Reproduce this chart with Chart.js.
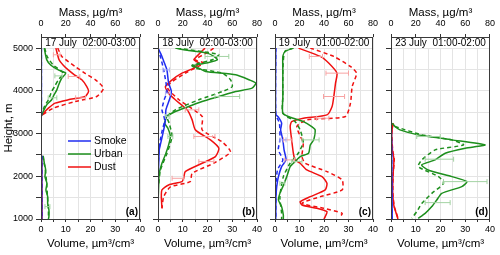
<!DOCTYPE html>
<html>
<head>
<meta charset="utf-8">
<script src="https://cdn.jsdelivr.net/npm/chart.js@4/dist/chart.umd.min.js"></script>
<style>
  body { margin: 0; background: #fff; width: 500px; height: 255px; position: relative; overflow: hidden; }
  canvas { position: absolute; left: 0; top: 0; }
</style>
</head>
<body>
<canvas id="pa" width="500" height="255"></canvas>
<canvas id="pb" width="500" height="255"></canvas>
<canvas id="pc" width="500" height="255"></canvas>
<canvas id="pd" width="500" height="255"></canvas>
<script>
// perfiles: altura (m) y valores; volumen en µm3/cm3, masa en µg/m3 (null = hueco)
// panel (a) 17 July
const aSmokeH = [5000, 3400, null, 2480, 1000];
const aSmokeVol = [0.15, 0.15, null, 0.3, 0.3];
const aSmokeMass = [0.3, 0.3, null, 0.5, 0.5];
const aUrbanH = [5000, 4730, 4600, 4490, 4414, 4300, 4150, 4023, 3900, 3790, 3670, 3516, 3400, null, 2477, 2305, 2148, 1992, 1836, 1680, 1523, 1367, 1211, 1055, 1000];
const aUrbanVol = [1.3, 2.3, 4, 7, 10, 8.4, 7.2, 6.4, 5.2, 4.3, 2.3, 0.9, 0, null, 0.9, 1.35, 1.9, 1.6, 2.4, 2, 2.7, 2.7, 3.2, 3.2, 3];
const aUrbanMassH = [5000, 4800, 4600, 4414, 4258, 4100, 3984, 3790, 3650, 3500, 3400, null, 2477, 2148, 1836, 1523, 1211, 1000];
const aUrbanMass = [3, 5, 10, 18, 14, 11, 8.6, 6, 3, 1, 0, null, 1.5, 3.5, 4.6, 5.2, 6, 6];
const aDustH = [5000, 4727, 4600, 4490, 4375, 4258, 4100, 3984, 3867, 3790, 3711, 3594, 3477, 3400, null, 2480, 2000, 1500, 1000];
const aDustVol = [6, 7.3, 9, 11, 13.5, 16.5, 18.5, 19.2, 17.8, 11, 5.7, 3, 1, 0, null, 0.3, 0.3, 0.4, 0.4];
const aDustMassH = [5000, 4800, 4570, 4400, 4258, 4063, 3867, 3750, 3594, 3437, null, 2480, 1000];
const aDustMass = [13.5, 17, 27.6, 36, 44, 50.5, 45, 27.6, 10, 1, null, 0.6, 0.8];
const aErrH = [4350, 3837, 1290, 4844, 4336, 3837];
const aErrLo = [5.6, 2.9, 1.6, 5, 11, 14];
const aErrHi = [8.5, 6.4, 3.6, 7.7, 15.7, 18];
const aErrType = ['u', 'u', 'u', 'd', 'd', 'd'];

// panel (b) 18 July
const bSmokeH = [5000, 4805, 4650, 4490, 4180, 3984, 3790, 3555, 3320, 3086, 2852, 2617, 2305, 2070, 1800];
const bSmokeVol = [0, 1.6, 2.6, 3.6, 4.3, 5.4, 4.6, 3.2, 3, 2.3, 1.4, 0.5, 0.3, 0.1, 0.1];
const bSmokeMassH = [5000, 4805, 4490, 3984, 3790, 3555, 3320, 3086, 2852, 2600, 2300];
const bSmokeMass = [0, 1.9, 4.6, 7.3, 5, 3.2, 5.4, 3.5, 1.9, 0.8, 0.3];
const bUrbanH = [5000, 4945, 4883, 4805, 4727, 4664, 4586, 4531, 4453, 4375, 4258, 4180, 4063, 3984, 3867, 3750, 3633, 3516, 3398, 3242, 3125, 2930, 2734, 2539, 2305, 2070, 1836, 1500];
const bUrbanVol = [7, 12.4, 19.9, 22.6, 24, 20.5, 13.8, 16.5, 19.2, 31.4, 36.8, 39.5, 38, 31.4, 24.6, 17.8, 12.4, 7, 3.6, 2.7, 4, 5, 4.3, 3.2, 1.6, 0.5, 0.3, 0.1];
const bUrbanMassH = [5000, 4850, 4727, 4600, 4530, 4414, 4258, 4100, 3984, 3790, 3555, 3398, 3242, 2930, 2539, 2150, 1800];
const bUrbanMass = [15.4, 49, 44, 27.6, 30, 52, 58.6, 60, 52, 33, 14, 7.3, 9, 11.4, 7.3, 2, 0.5];
const bDustH = [5000, 4883, 4727, 4650, 4531, 4414, 4258, 4100, 3945, 3790, 3555, 3320, 3086, 2852, 2656, 2460, 2305, 2109, 1953, 1875, 1797, 1680, 1523, 1250];
const bDustVol = [19, 17, 14.5, 16.5, 14.5, 9.7, 5.7, 3, 4.3, 7, 11.8, 13.8, 15.1, 21.2, 24.6, 23.2, 17.8, 11, 10.4, 9.7, 4.3, 1.6, 1.35, 1.6];
const bDustMassH = [5000, 4900, 4727, 4650, 4414, 4100, 3790, 3400, 3086, 2800, 2570, 2305, 2070, 1875, 1750, 1523, 1250];
const bDustMass = [45, 40, 30, 37, 22, 7.3, 17, 35.7, 35.7, 52, 58.6, 45, 27.6, 26, 10, 4.6, 3.2];
const bErrH = [4805, 3867, 2930, 3400, 4490, 3945, 3555, 2930, 2344, 1953];
const bErrLo = [19, 23, 4, 3, 2, 3, 11, 14.5, 16.5, 5.7];
const bErrHi = [28.6, 33, 6, 4.5, 4.6, 5, 16.5, 23, 22.6, 10.4];
const bErrType = ['u', 'u', 'u', 'u', 's', 's', 'd', 'd', 'd', 'd'];

// panel (c) 19 July
const cSmokeH = [5000, 3450, 3383, 3242, 3086, 2852, 2617, 2383, 2227, 1992, 1758, 1523, 1000];
const cSmokeVol = [0.3, 0.3, 1.4, 2.7, 2.3, 3.2, 3.7, 4.5, 2.7, 1.4, 0.7, 0.4, 0.3];
const cSmokeMassH = [5000, 3450, 3242, 2852, 2617, 2383, 2148, 1758, 1000];
const cSmokeMass = [0.6, 0.6, 3.6, 4, 2.7, 6.4, 2, 0.8, 0.6];
const cUrbanH = [5000, 4920, 4805, 4490, 3867, 3477, 3383, 3280, 3164, 3086, 2852, 2734, 2539, 2460, 2344, 2227, 1992, 1758, 1600, 1445, 1290, 1095, 1000];
const cUrbanVol = [7.5, 4.1, 3.2, 3.2, 3.2, 3.2, 6.2, 11.6, 15, 16.4, 15.8, 14.4, 13.7, 10.3, 8.2, 6.2, 4.8, 3.2, 2, 1.4, 2.7, 3.4, 3.4];
const cUrbanMassH = [5000, 4920, 4500, 3867, 3477, 3280, 3086, 2800, 2539, 2305, 1992, 1523, 1133, 1000];
const cUrbanMass = [15, 8, 6.4, 6.4, 6.4, 16.4, 20.5, 23, 19, 12.3, 6.8, 4, 5.4, 5.4];
const cDustH = [5000, 4805, 4650, 4414, 4180, 3867, 3633, 3437, 3360, 3280, 3164, 2852, 2539, 2383, 2305, 2148, 1992, 1836, 1680, 1523, 1406, 1328, 1250, 1172, 1055, 1000];
const cDustVol = [9.6, 18.5, 21.9, 25.3, 24.7, 24, 23.3, 21.2, 11.6, 6.8, 6.2, 6.8, 7.5, 8.2, 10.3, 13, 19.2, 21.2, 20.5, 14.4, 10.3, 11, 17.1, 21.2, 20.5, 20];
const cDustMassH = [5000, 4805, 4570, 4414, 4100, 3711, 3400, 3320, 3164, 2773, 2460, 2305, 2109, 1914, 1680, 1523, 1367, 1250, 1133, 1055];
const cDustMass = [28.8, 48, 61.6, 66.6, 63, 61.6, 57.5, 26, 17.8, 23, 22, 24.6, 42.5, 54.8, 54.8, 37, 22, 39.7, 54.8, 53.4];
const cErrH = [2852, 2344, 1836, 2852, 4805, 4414, 3867, 3360, 2852, 2383];
const cErrLo = [11, 6.8, 2, 2, 14, 20.8, 19.8, 17, 3.5, 4];
const cErrHi = [18, 11, 4, 4.5, 19.4, 30, 28.4, 22, 7, 8];
const cErrType = ['u', 'u', 'u', 's', 'd', 'd', 'd', 'd', 'd', 'd'];

// panel (d) 23 July
const dSmokeH = [3200, 2500, 2000, 1000];
const dSmokeVol = [0.1, 0.3, 0.3, 0.5];
const dSmokeMass = [0.2, 0.5, 0.5, 0.8];
const dUrbanH = [3242, 3164, 3086, 2969, 2852, 2734, 2656, 2539, 2383, 2266, 2148, 1992, 1875, 1758, 1600, 1445, 1290, 1133, 1016];
const dUrbanVol = [0.5, 1.6, 3.6, 11, 24.6, 38, 30, 21.9, 17.8, 12.4, 15, 24.6, 30.7, 28.6, 20.5, 18.5, 16.5, 13.8, 11];
const dUrbanMassH = [3164, 2969, 2852, 2734, 2617, 2383, 2227, 1992, 1836, 1600, 1367, 1172, 1016];
const dUrbanMass = [3.2, 25, 49, 58.6, 35.7, 24.9, 22, 38.4, 42.5, 33, 25, 20.8, 16.8];
const dDustH = [3242, 3000, 2600, 2400, 2000, 1600, 1300, 1150, 1000];
const dDustVol = [0.8, 0.3, 0.6, 1.2, 0.8, 0.7, 1.2, 2, 2.8];
const dDustMass = [1.6, 0.6, 1.4, 2.6, 1.6, 1.5, 2.6, 4.2, 5.8];
const dErrH = [2930, 2400, 1875, 1383];
const dErrLo = [10.4, 13.8, 21.2, 13.8];
const dErrHi = [19.9, 25.3, 38.8, 23.9];
const dErrType = ['u', 'u', 'u', 'u'];

const volTicks = [0, 10, 20, 30, 40];
const massTicks = [0, 20, 40, 60, 80];
const heightTicks = [1000, 2000, 3000, 4000, 5000];
const heightMinor = [1500, 2500, 3500, 4500];
const legendLabels = ['Smoke', 'Urban', 'Dust'];

const COL = { s: '#1f2cf0', u: '#1d8f1d', d: '#f01010' };
const ERR = { s: '#a9aef7', u: '#a3d3a3', d: '#f7a3a3' };
const FONT = '"Liberation Sans", Arial, sans-serif';

function pts(h, v) {
  return h.map((y, i) => (y === null ? { x: null, y: null } : { x: v[i], y: y }));
}

function line(h, v, col, dashed) {
  return {
    data: pts(h, v),
    xAxisID: dashed ? 'x2' : 'x',
    showLine: true,
    borderColor: col,
    borderWidth: 1.5,
    borderDash: dashed ? [4, 3] : [],
    pointRadius: 0,
    tension: 0.2,
    spanGaps: false
  };
}

function errBars(h, lo, hi, type, t) {
  const data = [];
  h.forEach((y, i) => {
    if (type[i] !== t) return;
    data.push({ x: lo[i], y: y }, { x: hi[i], y: y }, { x: null, y: null });
  });
  return {
    data: data,
    xAxisID: 'x',
    showLine: true,
    borderColor: ERR[t],
    borderWidth: 1,
    pointStyle: 'line',
    rotation: 90,
    pointRadius: 2.5,
    pointBorderColor: ERR[t],
    pointBorderWidth: 1,
    spanGaps: false
  };
}

const frame = {
  id: 'frame',
  afterDatasetsDraw(chart, args, o) {
    const { ctx, chartArea: a } = chart;
    ctx.save();
    ctx.font = '10px ' + FONT;
    const w = ctx.measureText(o.date).width;
    const cx = (a.left + a.right) / 2;
    ctx.fillStyle = '#fff';
    ctx.fillRect(cx - w / 2 - 2, a.top + 1, w + 4, 10);
    ctx.fillStyle = '#000';
    ctx.textAlign = 'center';
    ctx.textBaseline = 'middle';
    ctx.fillText(o.date, cx, a.top + 6.5);
    ctx.font = 'bold 10px ' + FONT;
    ctx.textAlign = 'right';
    ctx.fillText(o.letter, a.right - 2, a.bottom - 7);
    if (o.legend) {
      ctx.font = '10.5px ' + FONT;
      ctx.textAlign = 'left';
      ['s', 'u', 'd'].forEach((k, i) => {
        const y = 141 + i * 13;
        ctx.strokeStyle = COL[k];
        ctx.lineWidth = 1.5;
        ctx.beginPath();
        ctx.moveTo(68, y);
        ctx.lineTo(91, y);
        ctx.stroke();
        ctx.fillStyle = '#000';
        ctx.fillText(legendLabels[i], 94, y + 0.5);
      });
    }
    ctx.strokeStyle = '#3a3a3a';
    ctx.lineWidth = 1;
    ctx.strokeRect(Math.round(a.left) + 0.5, Math.round(a.top) + 0.5,
      Math.round(a.right - a.left) - 1, Math.round(a.bottom - a.top));
    ctx.restore();
  }
};

function makePanel(id, p) {
  const datasets = [
    errBars(p.eh, p.elo, p.ehi, p.et, 's'),
    errBars(p.eh, p.elo, p.ehi, p.et, 'u'),
    errBars(p.eh, p.elo, p.ehi, p.et, 'd'),
    line(p.sh, p.sv, COL.s, false),
    line(p.smh, p.sm, COL.s, true),
    line(p.uh, p.uv, COL.u, false),
    line(p.umh, p.um, COL.u, true),
    line(p.dh, p.dv, COL.d, false),
    line(p.dmh, p.dm, COL.d, true)
  ];
  const first = p.letter === '(a)';
  const yW = first ? 41 : 8;
  new Chart(document.getElementById(id), {
    type: 'scatter',
    data: { datasets: datasets },
    options: {
      responsive: false,
      animation: false,
      devicePixelRatio: 1,
      layout: { padding: { left: p.left - yW, right: 500 - p.right - 8, top: 0, bottom: 0 } },
      plugins: {
        legend: { display: false },
        tooltip: { enabled: false },
        frame: { date: p.date, letter: p.letter, legend: first }
      },
      scales: {
        x: {
          type: 'linear', position: 'bottom', min: 0, max: 40,
          afterFit: s => { s.height = 36; },
          grid: { color: '#e4e4e4', tickColor: '#333', tickLength: 3 },
          border: { display: false },
          ticks: {
            stepSize: 5, padding: 2, color: '#000', font: { family: FONT, size: 9 },
            maxRotation: 0, autoSkip: false,
            callback: v => (volTicks.includes(v) ? String(v) : '')
          },
          title: {
            display: true, text: 'Volume, µm³/cm³', color: '#000',
            font: { family: FONT, size: 11.5 }, padding: { top: 0, bottom: 4 }
          }
        },
        x2: {
          type: 'linear', position: 'top', min: 0, max: 80,
          afterFit: s => { s.height = 37; },
          grid: { drawOnChartArea: false, tickColor: '#333', tickLength: 3 },
          border: { display: false },
          ticks: {
            stepSize: 20, padding: 5, color: '#000', font: { family: FONT, size: 9 },
            maxRotation: 0, autoSkip: false,
            callback: v => (massTicks.includes(v) ? String(v) : '')
          },
          title: {
            display: true, text: 'Mass, µg/m³', color: '#000',
            font: { family: FONT, size: 11.5 }, padding: { top: 6, bottom: 0 }
          }
        },
        y: {
          type: 'linear', position: 'left', min: 1000, max: 5260,
          afterFit: s => { s.width = yW; },
          afterBuildTicks: s => {
            s.ticks = heightTicks.concat(heightMinor).sort((m, n) => m - n).map(v => ({ value: v }));
          },
          grid: { color: '#e4e4e4', tickColor: '#333', tickLength: 5 },
          border: { display: false },
          ticks: {
            padding: 3, color: '#000',
            font: { family: FONT, size: 9 }, autoSkip: false,
            callback: v => (first && heightTicks.includes(v) ? String(v) : '')
          },
          title: {
            display: first, text: 'Height, m', color: '#000',
            font: { family: FONT, size: 11.5 }, padding: { top: 2, bottom: 0 }
          }
        },
        yR: {
          type: 'linear', position: 'right', min: 1000, max: 5260,
          afterFit: s => { s.width = 8; },
          grid: { display: false },
          border: { display: false },
          ticks: { display: false }
        }
      }
    },
    plugins: [frame]
  });
}

makePanel('pa', {
  left: 41, right: 140, date: '17 July  02:00-03:00', letter: '(a)',
  sh: aSmokeH, sv: aSmokeVol, smh: aSmokeH, sm: aSmokeMass,
  uh: aUrbanH, uv: aUrbanVol, umh: aUrbanMassH, um: aUrbanMass,
  dh: aDustH, dv: aDustVol, dmh: aDustMassH, dm: aDustMass,
  eh: aErrH, elo: aErrLo, ehi: aErrHi, et: aErrType
});
makePanel('pb', {
  left: 158, right: 257, date: '18 July  02:00-03:00', letter: '(b)',
  sh: bSmokeH, sv: bSmokeVol, smh: bSmokeMassH, sm: bSmokeMass,
  uh: bUrbanH, uv: bUrbanVol, umh: bUrbanMassH, um: bUrbanMass,
  dh: bDustH, dv: bDustVol, dmh: bDustMassH, dm: bDustMass,
  eh: bErrH, elo: bErrLo, ehi: bErrHi, et: bErrType
});
makePanel('pc', {
  left: 275, right: 373, date: '19 July  01:00-02:00', letter: '(c)',
  sh: cSmokeH, sv: cSmokeVol, smh: cSmokeMassH, sm: cSmokeMass,
  uh: cUrbanH, uv: cUrbanVol, umh: cUrbanMassH, um: cUrbanMass,
  dh: cDustH, dv: cDustVol, dmh: cDustMassH, dm: cDustMass,
  eh: cErrH, elo: cErrLo, ehi: cErrHi, et: cErrType
});
makePanel('pd', {
  left: 391, right: 490, date: '23 July  01:00-02:00', letter: '(d)',
  sh: dSmokeH, sv: dSmokeVol, smh: dSmokeH, sm: dSmokeMass,
  uh: dUrbanH, uv: dUrbanVol, umh: dUrbanMassH, um: dUrbanMass,
  dh: dDustH, dv: dDustVol, dmh: dDustH, dm: dDustMass,
  eh: dErrH, elo: dErrLo, ehi: dErrHi, et: dErrType
});
</script>
</body>
</html>
